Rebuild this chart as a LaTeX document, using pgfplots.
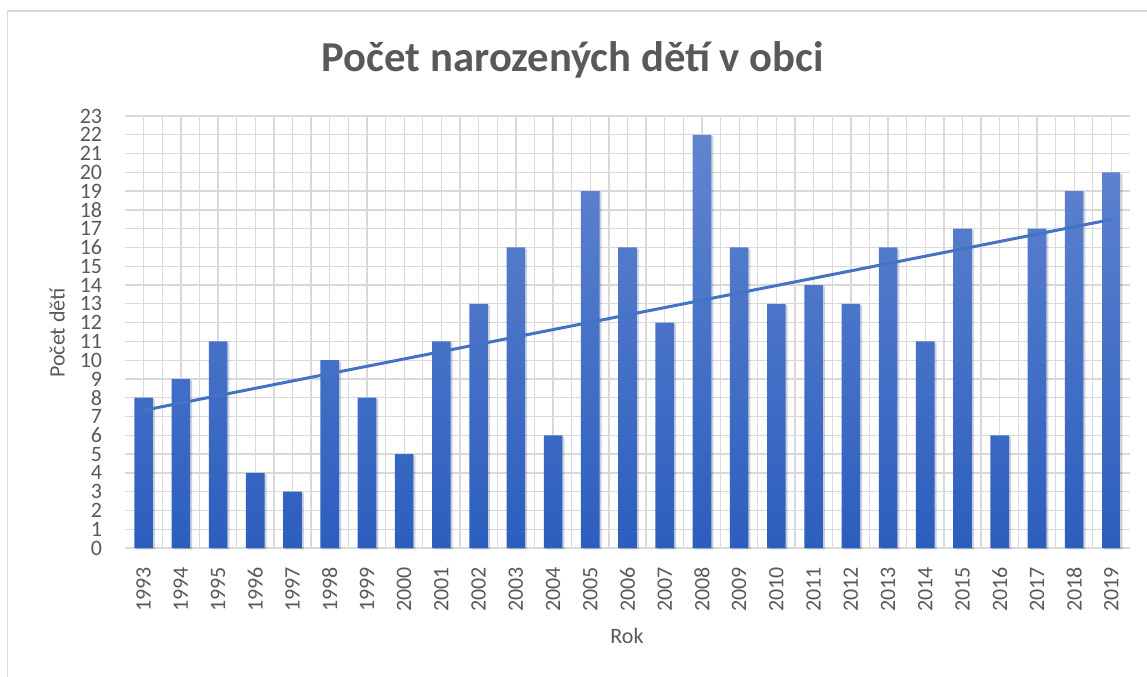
\documentclass[border=0pt]{standalone}
\usepackage{pgfplots}
\pgfplotsset{compat=1.18}
\usepackage{fontspec}
\setmainfont{Carlito}

\definecolor{txt}{HTML}{595959}
\definecolor{grd}{HTML}{D9D9D9}
\definecolor{bartop}{HTML}{6185D0}
\definecolor{barbot}{HTML}{2C5EBE}
\definecolor{trend}{HTML}{4472C4}

\begin{document}
\begin{tikzpicture}[x=0.75pt,y=0.75pt]
% page frame, pixel units (1px = 0.75pt)
\path[use as bounding box] (0,0) rectangle (1147,676);
\draw[grd, line width=1pt] (7.5,-2) -- (7.5,665) -- (1150,665);

\node[anchor=base, font=\fontsize{32}{38}\selectfont\bfseries, text=txt]
  at (573,604) {Počet narozených dětí v obci};
\node[rotate=90, font=\fontsize{16.5}{20}\selectfont, text=txt] at (57,343) {Počet dětí};
\node[anchor=base, font=\fontsize{16.5}{20}\selectfont, text=txt] at (627,33) {Rok};

\begin{axis}[
  at={(93.75pt,96pt)}, anchor=south west,
  scale only axis, width=753.75pt, height=324pt,
  xmin=-0.5, xmax=26.5, ymin=0, ymax=23,
  xtick={0,...,26},
  xticklabels={1993,1994,1995,1996,1997,1998,1999,2000,2001,2002,2003,2004,2005,2006,2007,2008,2009,2010,2011,2012,2013,2014,2015,2016,2017,2018,2019},
  ytick={0,...,23},
  minor x tick num=1,
  xmajorgrids, xminorgrids, ymajorgrids,
  grid style={grd, line width=1pt},
  minor grid style={grd, line width=1pt},
  axis line style={draw=none},
  major tick length=0pt, minor tick length=0pt,
  tick label style={font=\fontsize{16.5}{20}\selectfont, text=txt, inner sep=0pt},
  /pgf/number format/assume math mode=true,
  xticklabel style={rotate=90, anchor=east},
  xticklabel shift=14pt,
  yticklabel shift=17pt,
  clip=false]
  \addplot[ybar, bar width=0.5, draw=none, top color=bartop, bottom color=barbot,
    preaction={fill=black, opacity=0.12, transform canvas={xshift=1.5pt, yshift=-1pt}}]
    coordinates {(0,8) (1,9) (2,11) (3,4) (4,3) (5,10) (6,8) (7,5) (8,11) (9,13)
      (10,16) (11,6) (12,19) (13,16) (14,12) (15,22) (16,16) (17,13) (18,14) (19,13)
      (20,16) (21,11) (22,17) (23,6) (24,17) (25,19) (26,20)};
  \addplot[trend, line width=2.25pt] coordinates {(0,7.33) (26,17.49)};
\end{axis}
\end{tikzpicture}
\end{document}
